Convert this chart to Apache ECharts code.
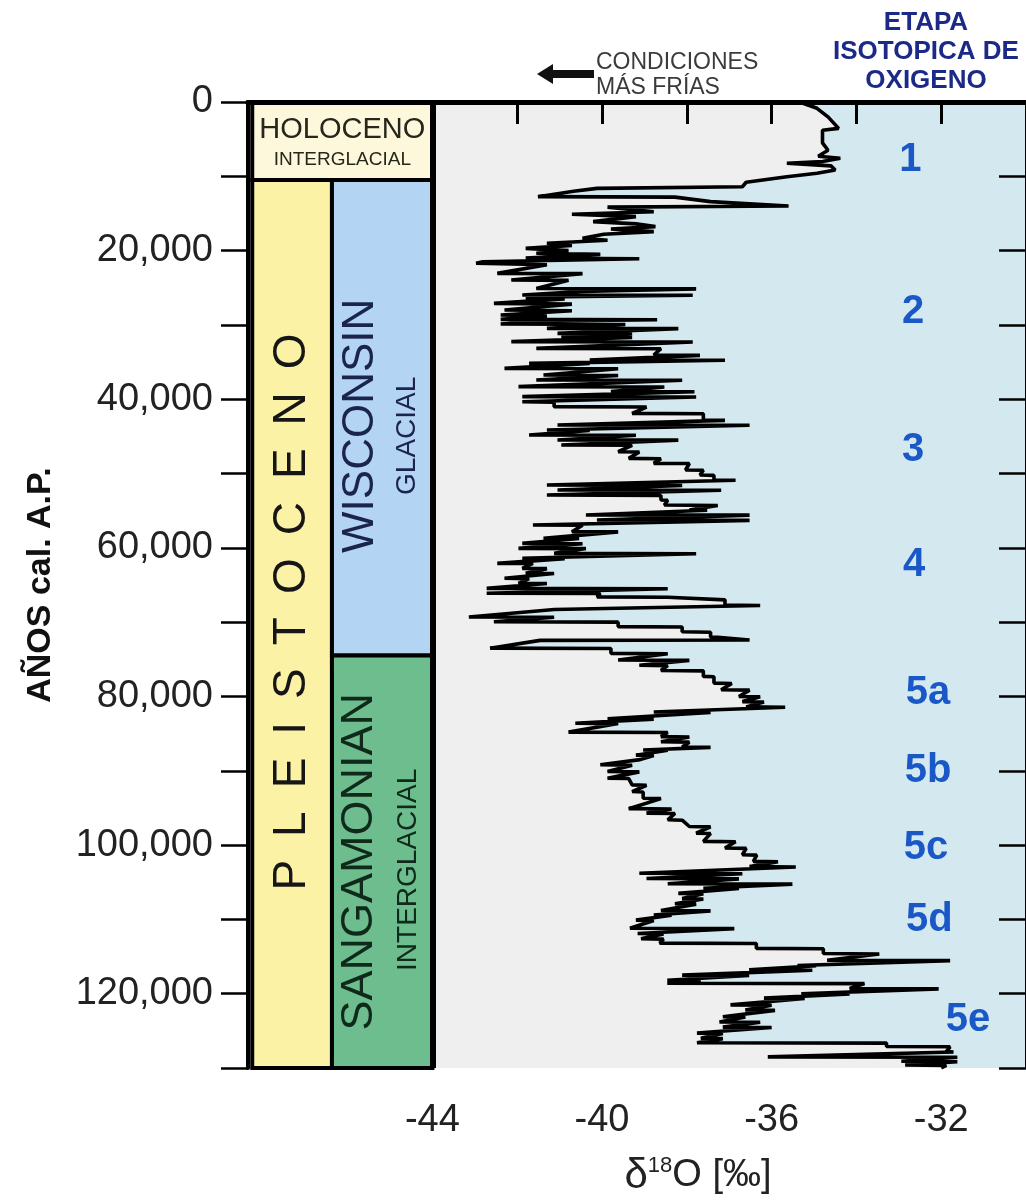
<!DOCTYPE html>
<html>
<head>
<meta charset="utf-8">
<title>δ18O – etapas isotópicas</title>
<script src="https://cdn.jsdelivr.net/npm/echarts@6.0.0/dist/echarts.min.js"></script>
<style>
  html, body { margin: 0; padding: 0; background: #fff; }
  #chart { width: 1026px; height: 1201px; }
</style>
</head>
<body>
<div id="chart"></div>
<script>
// ---- data: d18O record (age in years cal. BP, d18O in permil)
var ageSeg1 = [0, 850, 2000, 3550, 3800, 5500, 6500, 7300, 7580, 8000,
  8250, 8600, 9150, 9600, 10050, 10800, 11400, 11620, 12000, 12740,
  12800, 13410, 14000, 14150, 14760, 15100, 15430, 16100, 16400, 16770,
  17100, 17450, 17800, 18350, 18600, 19000, 19300, 19700, 20000, 20360,
  20500, 21000, 21100, 21500];
var d18oSeg1 = [-35.34, -34.93, -34.67, -34.42, -34.8, -34.8, -34.67, -34.9, -34.38, -34.8,
  -35.64, -34.6, -34.5, -34.93, -35.64, -36.6, -36.69, -40.12, -40.67, -41.51,
  -38.28, -37.44, -35.6, -39.87, -38.78, -40.71, -39.2, -40.21, -39.2, -38.74,
  -39.79, -38.78, -39.96, -40.46, -39.87, -41.3, -40.71, -41.8, -40.79, -41.55,
  -40.04, -41.8, -39.12, -42.81];

var ageSeg2 = [21700, 21900, 23060, 23100, 23960, 24000, 25100, 25150, 25500, 25980,
  26000, 26200, 26400, 26500, 27100, 27200, 28000, 28100, 28670, 28800,
  29250, 29300, 29500, 29880, 29950, 30460, 30500, 31140, 31200, 31670,
  31700, 32250, 32300, 33150, 33200, 34050, 34100, 34720, 34750, 35170,
  35200, 35850, 35900, 36740, 36800, 37410, 37450, 38310, 38350, 38980,
  39000, 39650, 39700, 40330, 40400, 41000, 41050, 41900, 41950, 42800,
  42850, 43470, 43500];
var d18oSeg2 = [-42.97, -41.3, -42.47, -40.46, -42.14, -40.79, -41.55, -37.78, -40.5, -41.88,
  -37.86, -40.9, -41.8, -40.88, -42.55, -40.71, -42.3, -40.71, -42.39, -41.3,
  -42.39, -38.7, -41.5, -42.39, -39.45, -41.3, -38.2, -41.05, -39.29, -40.96,
  -39.29, -42.14, -37.86, -41.55, -38.61, -38.78, -37.69, -40.29, -37.1, -41.72,
  -40.29, -42.3, -39.62, -41.38, -39.62, -41.55, -38.11, -41.97, -38.53, -39.79,
  -37.82, -41.88, -37.78, -41.88, -41.13, -41.13, -38.95, -39.29, -37.61, -37.61,
  -37.1, -41.05, -36.52];

var ageSeg3 = [44150, 44200, 44820, 44850, 45490, 45500, 46160, 46200, 47060, 47100,
  47960, 48000, 48630, 48650, 49520, 49550, 50200, 50250, 50870, 50900,
  51540, 51600, 52220, 52250, 52890, 52950, 53570, 53600, 54240, 54300,
  54910, 54950, 55580, 55600, 56260, 56300, 56930, 56950, 57830, 57850,
  58720, 58750, 59400, 59450, 60070, 60100, 60740, 60800, 61410, 61450,
  62090, 62100, 62760, 62800, 63430, 63450, 64100, 64150, 64780, 64800,
  65450, 65500, 66120, 66150];
var d18oSeg3 = [-41.3, -40.29, -41.72, -39.2, -41.05, -38.2, -40.96, -39.29, -39.62, -39.12,
  -39.37, -38.61, -38.78, -37.94, -38.03, -37.61, -37.69, -37.36, -37.36, -36.85,
  -41.3, -38.11, -41.05, -37.19, -41.3, -38.61, -38.61, -38.45, -38.53, -37.27,
  -37.94, -37.52, -40.38, -36.52, -40.12, -36.52, -41.63, -40.46, -40.71, -39.62,
  -41.38, -40.54, -41.88, -40.46, -41.97, -40.38, -41.13, -37.78, -41.88, -40.88,
  -42.47, -41.63, -41.88, -41.3, -41.8, -41.13, -42.3, -41.72, -41.97, -41.3,
  -42.72, -38.45, -42.72, -40.04];

var ageSeg4 = [66600, 66650, 67000, 67700, 67750, 68300, 69300, 69350, 69950, 70000,
  70600, 70650, 71300, 71350, 72000, 72050, 72400, 72450, 73500, 73550,
  74200, 74250, 75100, 75150, 75800, 75850, 76500, 76550, 77300, 77350,
  78200, 78250, 79100, 79150, 80000, 80050, 80700, 80750, 81400, 81450,
  82100, 82150, 83000, 83050, 83600, 83650, 84800, 84850, 85400, 85450,
  86100, 86150, 86800, 86850, 87200, 87250, 87900, 87950];
var d18oSeg4 = [-40.12, -38.45, -37.1, -37.1, -36.27, -41.13, -43.14, -41.13, -42.55, -39.62,
  -39.62, -38.11, -38.11, -37.44, -37.44, -37.27, -36.52, -41.46, -42.64, -39.79,
  -39.79, -38.45, -39.62, -37.94, -39.12, -38.45, -38.61, -37.61, -37.61, -37.36,
  -37.36, -36.94, -37.19, -36.52, -36.77, -36.27, -36.69, -36.18, -36.6, -35.68,
  -38.78, -37.44, -39.87, -38.78, -40.63, -39.62, -40.79, -38.45, -38.61, -37.94,
  -38.61, -37.94, -38.11, -37.44, -39.03, -38.45, -39.2, -38.78];

var ageSeg5 = [88500, 89200, 89250, 90100, 90150, 91000, 91050, 91900, 91950, 92800,
  92850, 93700, 93750, 95100, 95150, 95700, 95750, 96600, 96650, 97500,
  97550, 98400, 98450, 99500, 99550, 100400, 100450, 101300, 101350, 102200,
  102250, 102900, 102950, 103800, 103850, 104500, 104550, 105200, 105250, 105800,
  105850, 106500, 106550, 107200, 107250, 107900, 107950, 108800, 108850, 109400,
  109450, 110100, 110150];
var d18oSeg5 = [-39.1, -40.04, -39.29, -39.87, -39.12, -39.87, -39.37, -39.29, -38.95, -39.29,
  -39.03, -39.03, -38.61, -39.37, -38.36, -38.95, -38.28, -38.45, -38.11, -37.94,
  -37.44, -37.78, -37.44, -37.61, -36.85, -37.1, -36.6, -36.69, -36.35, -36.43,
  -35.85, -36.52, -35.43, -39.12, -36.69, -38.95, -36.77, -38.45, -35.51, -37.61,
  -36.77, -38.2, -37.61, -38.11, -37.61, -38.28, -37.78, -38.61, -37.44, -38.78,
  -38.36, -39.2, -38.78];

var ageSeg6 = [111200, 111250, 111900, 111950, 112600, 112650, 113200, 113250, 113900, 113950,
  114600, 114650, 115500, 115550, 116200, 116250, 116800, 116850, 117500, 117550,
  118200, 118250, 118600, 118650, 119300, 119350, 120000, 120050, 120600, 120650,
  121500, 121550, 122200, 122250, 123100, 123150, 123800, 123850, 124500, 124550,
  125300, 125350, 126000, 126050, 126600, 126650, 127100, 127150, 127800, 127850,
  128500, 128550, 129100, 129150, 129600, 129650, 130000];
var d18oSeg6 = [-39.34, -36.88, -39.16, -38.55, -39.08, -38.55, -38.64, -36.36, -36.36, -34.78,
  -34.78, -33.46, -34.69, -31.79, -35.39, -34.95, -36.53, -35.04, -38.11, -36.53,
  -38.46, -37.67, -38.46, -33.81, -34.16, -32.06, -35.3, -34.16, -36.18, -35.22,
  -36.97, -36.0, -36.62, -35.92, -37.15, -36.62, -37.23, -36.27, -37.15, -36.0,
  -37.76, -37.15, -37.67, -37.15, -37.76, -33.29, -33.29, -31.79, -31.88, -31.71,
  -36.09, -31.62, -32.94, -31.62, -32.85, -31.88, -32.0];

// stratigraphic units (years BP)
var unitNames = ['HOLOCENO', 'PLEISTOCENO', 'WISCONSIN', 'SANGAMONIAN'];
var unitSub = ['INTERGLACIAL', '', 'GLACIAL', 'INTERGLACIAL'];
var unitTop = [0, 10500, 10500, 74500];
var unitBase = [10500, 130000, 74500, 130000];

// oxygen isotope stages
var stageNames = ['1', '2', '3', '4', '5a', '5b', '5c', '5d', '5e'];
var stageAge = [7800, 28300, 46800, 62300, 79500, 90000, 100400, 110100, 123600];

// ticks
var xTickValues = [-44, -42, -40, -38, -36, -34, -32];
var xLabelValues = [-44, -40, -36, -32];
var yTickStep = 10000;
var yLabelStep = 20000;

var ages = [].concat(ageSeg1, ageSeg2, ageSeg3, ageSeg4, ageSeg5, ageSeg6);
var d18o = [].concat(d18oSeg1, d18oSeg2, d18oSeg3, d18oSeg4, d18oSeg5, d18oSeg6);

// ---- layout / style
var X_MIN = -48.35, X_MAX = -30, Y_MAX = 130000;
var FONT = "'Liberation Sans', Arial, Helvetica, sans-serif";

// column bounds of the stratigraphy boxes (in axis units) and their look
var unitCol = {
  HOLOCENO: [-48.25, -44],
  PLEISTOCENO: [-48.25, -46.37],
  WISCONSIN: [-46.37, -44],
  SANGAMONIAN: [-46.37, -44]
};
var unitStyle = {
  HOLOCENO: { fill: '#fdf8dc', ink: '#26261a', vertical: false, text: 'HOLOCENO', size: 29, off: [0, -11], subSize: 19, subOff: [0, 19] },
  PLEISTOCENO: { fill: '#fbf2a6', ink: '#161616', vertical: true, text: 'P\u2002L\u2002E\u2002I\u2002S\u2002T\u2002O\u2002C\u2002E\u2002N\u2002O', size: 46, off: [0, -12] },
  WISCONSIN: { fill: '#b4d4f3', ink: '#1b244e', vertical: true, text: 'WISCONSIN', size: 44, off: [-21, 8], subSize: 28, subOff: [25, 18] },
  SANGAMONIAN: { fill: '#6dbd8e', ink: '#0f2a1a', vertical: true, text: 'SANGAMONIAN', size: 45, off: [-23, 0], subSize: 28, subOff: [26, 8] }
};
var stageLabelX = [-32.73, -32.66, -32.66, -32.64, -32.31, -32.31, -32.36, -32.28, -31.37];

var chart = echarts.init(document.getElementById('chart'));

var option = {
  animation: false,
  backgroundColor: '#ffffff',
  grid: {
    left: 248,
    right: 0,
    top: 102,
    bottom: 133,
    show: true,
    backgroundColor: '#efefef',
    borderWidth: 0
  },
  xAxis: [
    {
      type: 'value',
      position: 'bottom',
      min: X_MIN,
      max: X_MAX,
      z: 10,
      axisLine: { show: true, lineStyle: { color: '#000', width: 5 } },
      axisTick: { show: true, customValues: xTickValues, length: 20, lineStyle: { color: '#000', width: 3 } },
      axisLabel: { customValues: xLabelValues, margin: 34, fontSize: 38, color: '#222', fontFamily: FONT },
      splitLine: { show: false }
    },
    {
      type: 'value',
      position: 'top',
      min: X_MIN,
      max: X_MAX,
      z: 10,
      axisLine: { show: true, lineStyle: { color: '#000', width: 5 } },
      axisTick: { show: true, inside: true, customValues: xTickValues, length: 22, lineStyle: { color: '#000', width: 3 } },
      axisLabel: { show: false },
      splitLine: { show: false }
    }
  ],
  yAxis: [
    {
      type: 'value',
      position: 'left',
      inverse: true,
      min: 0,
      max: Y_MAX,
      interval: yTickStep,
      z: 10,
      name: 'AÑOS cal. A.P.',
      nameLocation: 'middle',
      nameRotate: 90,
      nameGap: 190,
      nameTextStyle: { fontSize: 34, fontWeight: 'bold', color: '#111', fontFamily: FONT },
      axisLine: { show: true, lineStyle: { color: '#000', width: 4 } },
      axisTick: { show: true, length: 27, lineStyle: { color: '#000', width: 2.5 } },
      axisLabel: {
        margin: 35,
        fontSize: 38,
        color: '#222',
        fontFamily: FONT,
        formatter: function (v) {
          return v % yLabelStep === 0 ? v.toLocaleString('en-US') : '';
        }
      },
      splitLine: { show: false }
    },
    {
      type: 'value',
      position: 'right',
      inverse: true,
      min: 0,
      max: Y_MAX,
      interval: yTickStep,
      z: 10,
      axisLine: { show: true, lineStyle: { color: '#000', width: 2 } },
      axisTick: { show: true, inside: true, length: 27, lineStyle: { color: '#000', width: 2.5 } },
      axisLabel: { show: false },
      splitLine: { show: false }
    }
  ],
  graphic: [
    { type: 'text', x: 926, y: 23, style: { text: 'ETAPA', font: 'bold 26px ' + FONT, fill: '#1b2a86', align: 'center', verticalAlign: 'middle' } },
    { type: 'text', x: 926, y: 52, style: { text: 'ISOTOPICA DE', font: 'bold 26px ' + FONT, fill: '#1b2a86', align: 'center', verticalAlign: 'middle' } },
    { type: 'text', x: 926, y: 81, style: { text: 'OXIGENO', font: 'bold 26px ' + FONT, fill: '#1b2a86', align: 'center', verticalAlign: 'middle' } },
    { type: 'polygon', shape: { points: [[537, 74], [553, 64], [553, 70], [594, 70], [594, 78], [553, 78], [553, 84]] }, style: { fill: '#111' } },
    { type: 'text', x: 596, y: 63, style: { text: 'CONDICIONES', font: '23px ' + FONT, fill: '#3b3b3b', align: 'left', verticalAlign: 'middle' } },
    { type: 'text', x: 596, y: 88, style: { text: 'MÁS FRÍAS', font: '23px ' + FONT, fill: '#3b3b3b', align: 'left', verticalAlign: 'middle' } },
    {
      type: 'text', x: 698, y: 1176,
      style: {
        text: '{d|δ}{s|18}{o|O [‰]}',
        align: 'center',
        verticalAlign: 'middle',
        rich: {
          d: { fontSize: 42, fontFamily: FONT, fill: '#222', color: '#222' },
          s: { fontSize: 22, fontFamily: FONT, verticalAlign: 'top', fill: '#222', color: '#222' },
          o: { fontSize: 38, fontFamily: FONT, fill: '#222', color: '#222' }
        }
      }
    }
  ],
  series: [
    // colder side stays grey, the area to the right of the curve is light blue
    {
      type: 'custom',
      name: 'fill',
      silent: true,
      z: 1,
      data: [[X_MAX, 0]],
      renderItem: function (params, api) {
        var pts = ages.map(function (a, i) {
          return api.coord([d18o[i], a]);
        });
        pts.push(api.coord([X_MAX, Y_MAX]));
        pts.push(api.coord([X_MAX, 0]));
        return { type: 'polygon', shape: { points: pts }, style: { fill: '#d4e9ef' } };
      }
    },
    // stratigraphic columns
    {
      type: 'custom',
      name: 'strat',
      silent: true,
      z: 3,
      data: unitNames.map(function (n, i) {
        return [unitCol[n][0], unitTop[i], unitCol[n][1], unitBase[i]];
      }),
      encode: { x: [0, 2], y: [1, 3] },
      renderItem: function (params, api) {
        var i = params.dataIndex;
        var s = unitStyle[unitNames[i]];
        var p0 = api.coord([api.value(0), api.value(1)]);
        var p1 = api.coord([api.value(2), api.value(3)]);
        var cx = (p0[0] + p1[0]) / 2;
        var cy = (p0[1] + p1[1]) / 2;
        var rot = s.vertical ? Math.PI / 2 : 0;
        var children = [{
          type: 'rect',
          shape: { x: p0[0], y: p0[1], width: p1[0] - p0[0], height: p1[1] - p0[1] },
          style: { fill: s.fill, stroke: '#000', lineWidth: 4 }
        }, {
          type: 'text',
          x: cx + s.off[0],
          y: cy + s.off[1],
          rotation: rot,
          style: { text: s.text, font: s.size + 'px ' + FONT, fill: s.ink, align: 'center', verticalAlign: 'middle' }
        }];
        if (unitSub[i]) {
          children.push({
            type: 'text',
            x: cx + s.subOff[0],
            y: cy + s.subOff[1],
            rotation: rot,
            style: { text: unitSub[i], font: s.subSize + 'px ' + FONT, fill: s.ink, align: 'center', verticalAlign: 'middle' }
          });
        }
        return { type: 'group', children: children };
      }
    },
    {
      type: 'line',
      name: 'd18O',
      z: 4,
      symbol: 'none',
      showSymbol: false,
      data: ages.map(function (a, i) {
        return [d18o[i], a];
      }),
      lineStyle: { color: '#000', width: 3.6 },
      markLine: {
        silent: true,
        symbol: 'none',
        label: { show: false },
        lineStyle: { color: '#000', width: 6, type: 'solid' },
        data: [{ xAxis: -44 }]
      }
    },
    {
      type: 'scatter',
      name: 'stages',
      z: 5,
      symbolSize: 0,
      silent: true,
      itemStyle: { opacity: 1 },
      data: stageNames.map(function (n, i) {
        return { name: n, value: [stageLabelX[i], stageAge[i]] };
      }),
      label: {
        show: true,
        position: 'inside',
        formatter: '{b}',
        fontSize: 40,
        fontWeight: 'bold',
        color: '#1a58c8',
        opacity: 1,
        fontFamily: FONT
      }
    }
  ]
};

chart.setOption(option);
</script>
</body>
</html>
